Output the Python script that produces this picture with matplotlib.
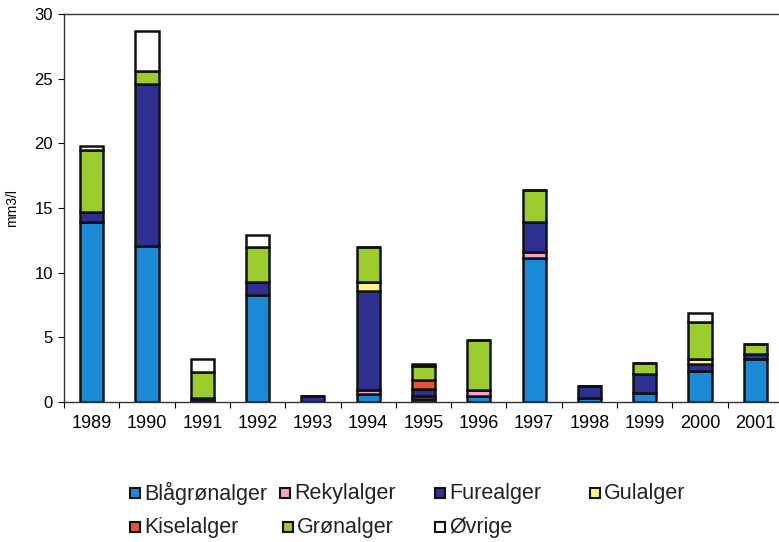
import matplotlib
matplotlib.use("Agg")
import matplotlib.pyplot as plt
from matplotlib.patches import Rectangle
import numpy as np

plt.rcParams['font.family'] = ['Liberation Sans', 'DejaVu Sans']

years = ['1989', '1990', '1991', '1992', '1993', '1994', '1995', '1996',
         '1997', '1998', '1999', '2000', '2001']
series = ['Blågrønalger', 'Rekylalger', 'Furealger', 'Gulalger',
          'Kiselalger', 'Grønalger', 'Øvrige']
blagronalger = [13.9, 12.1, 0.1, 8.3, 0.0, 0.6, 0.2, 0.5, 11.1, 0.3, 0.7, 2.4, 3.3]
rekylalger   = [0.0, 0.0, 0.0, 0.0, 0.0, 0.3, 0.3, 0.4, 0.5, 0.0, 0.0, 0.0, 0.0]
furealger    = [0.8, 12.5, 0.2, 1.0, 0.45, 7.7, 0.5, 0.0, 2.3, 0.9, 1.5, 0.5, 0.4]
gulalger     = [0.0, 0.0, 0.0, 0.0, 0.0, 0.7, 0.0, 0.0, 0.0, 0.0, 0.0, 0.4, 0.0]
kiselalger   = [0.0, 0.0, 0.0, 0.0, 0.0, 0.0, 0.7, 0.0, 0.0, 0.0, 0.0, 0.0, 0.0]
gronalger    = [4.8, 1.0, 2.0, 2.7, 0.0, 2.7, 1.1, 3.9, 2.5, 0.0, 0.8, 2.9, 0.8]
ovrige       = [0.3, 3.1, 1.0, 0.9, 0.0, 0.0, 0.1, 0.0, 0.0, 0.0, 0.0, 0.7, 0.0]

values = [blagronalger, rekylalger, furealger, gulalger, kiselalger, gronalger, ovrige]
colors = ['#1b8ad6', '#f2a7c9', '#2e3192', '#fbf68a', '#e6553a', '#9ccc2e', '#ffffff']

fig = plt.figure(figsize=(7.79, 5.42), dpi=100)
ax = fig.add_axes([64 / 779, 1 - 402 / 542, (783 - 64) / 779, (402 - 14) / 542])

x = np.arange(len(years))
bottom = np.zeros(len(years))
for vals, col, name in zip(values, colors, series):
    v = np.array(vals)
    ax.bar(x, v, width=0.42, bottom=bottom, color=col, edgecolor='#111111',
           linewidth=1.8, label=name)
    bottom += v

ax.set_xlim(-0.5, len(years) - 0.5)
ax.set_ylim(0, 30)
ax.set_yticks([0, 5, 10, 15, 20, 25, 30])
ax.set_xticks(x)
ax.set_xticklabels(years, fontsize=13)
ax.set_xticks(np.arange(-0.5, len(years), 1), minor=True)
ax.tick_params(axis='x', which='major', length=0, pad=9)
ax.tick_params(axis='x', which='minor', length=4, direction='out', width=0.8)
ax.tick_params(axis='y', length=4, direction='out', width=0.8, labelsize=12, pad=4)
for s in ax.spines.values():
    s.set_linewidth(1.0)
    s.set_color('#333333')
ax.set_ylabel('mm3/l', fontsize=10)
ax.yaxis.set_label_coords(-0.062, 0.5)

# legend drawn manually to mimic the original layout
legend_pos = [(130, 493), (280, 493), (435, 493), (590, 493),
              (130, 527), (283, 527), (435, 527)]
for (px, py), col, name in zip(legend_pos, colors, series):
    fig.patches.append(Rectangle((px / 779, 1 - (py + 5) / 542), 10 / 779, 10 / 542,
                                 transform=fig.transFigure, facecolor=col,
                                 edgecolor='#111111', linewidth=1.5))
    fig.text((px + 14) / 779, 1 - py / 542, name, fontsize=15.5,
             va='center', ha='left', color='#222222')

fig.savefig('out.png', dpi=100)
